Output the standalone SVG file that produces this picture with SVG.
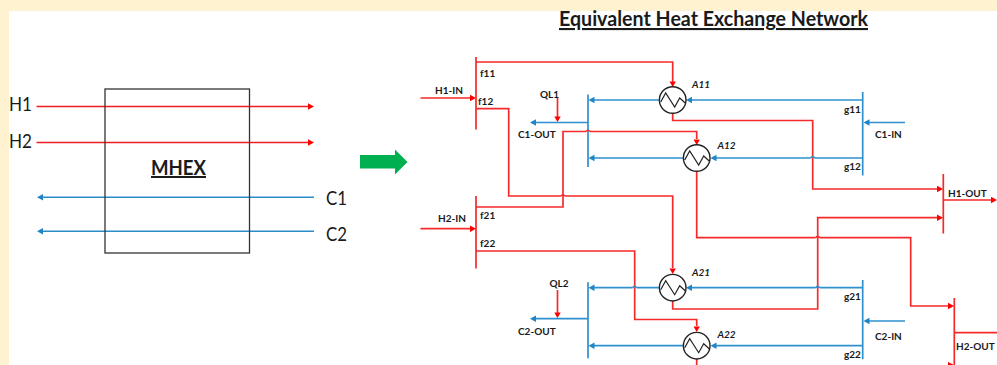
<svg xmlns="http://www.w3.org/2000/svg" width="997" height="365" viewBox="0 0 997 365">
<style>
.t{font-family:Lato,"Liberation Sans",sans-serif;fill:#1a1a1a}
.l{font-size:10px;font-weight:700}
.a{font-size:10px;font-weight:700;font-style:italic}
.s{font-size:19.5px}
.r{fill:none;stroke:#f52a2a;stroke-width:1.7}
.b{fill:none;stroke:#2e90cf;stroke-width:1.7}
.r1{fill:none;stroke:#f01c24;stroke-width:1.4}
.b1{fill:none;stroke:#2a8cc8;stroke-width:1.5}
.hx{fill:#fff;stroke:#222;stroke-width:1.4}
.z{fill:none;stroke:#222;stroke-width:1.2}
.ra{fill:#f00}
.ba{fill:#1f85c6}
</style>
<defs>
<g id="rr"><polygon class="ra" points="0,0 -6,-3.2 -6,3.2"/></g>
<g id="rd"><polygon class="ra" points="0,0 -3.2,-5.5 3.2,-5.5"/></g>
<g id="bl"><polygon class="ba" points="0,0 6,-3.2 6,3.2"/></g>
<g id="hxs"><circle class="hx" r="13.3"/><path class="z" d="M-12,2 L-7,-7 L2,7 L7,-2 L12.500,3"/></g>
</defs>
<rect width="997" height="365" fill="#fff"/>
<path d="M0 0H997V11H9V365H0Z" fill="#fff2d0"/>

<g id="connectors">
  <g id="mhex-streams">
    <path class="r1" d="M36.500 106.500H308M36.500 142.500H308"/>
    <use href="#rr" x="314" y="106.500"/><use href="#rr" x="314" y="142.500"/>
    <path class="b1" d="M314 197.300H42M314 231.300H42"/>
    <use href="#bl" x="37" y="197.300"/><use href="#bl" x="37" y="231.300"/>
  </g>
  <g id="hot-streams">
    <path class="r" d="M420.500 98H470"/><use href="#rr" x="476" y="98"/>
    <path class="r" d="M420.500 228.700H470"/><use href="#rr" x="476" y="228.700"/>
    <path class="r" d="M476 57V129.500M476 196V268.500M943.300 174V233.500M954.300 298V365"/>
    <path class="r" d="M476 62H672.700V82"/><use href="#rd" x="672.700" y="87"/>
    <path class="r" d="M476 108.700H508.700V196H561M565 196H672.700V268"/><use href="#rd" x="672.700" y="274"/>
    <path class="r" d="M476 207H563V131.500H586M590 131.500H696.700V139"/><use href="#rd" x="696.700" y="145"/>
    <path class="r" d="M476 251H634.700V319.500H696.700V326"/><use href="#rd" x="696.700" y="332"/>
    <path class="r" d="M672.700 113V120.500H812.700V189H937"/><use href="#rr" x="943" y="189"/>
    <path class="r" d="M672.700 301V309H817.700V217.700H937"/><use href="#rr" x="943" y="217.700"/>
    <path class="r" d="M696.700 172V237.700H815.700M819.700 237.700H910.700V306H948"/><use href="#rr" x="954" y="306"/>
    <path class="r" d="M696.700 359V365"/>
    <path class="r" d="M943.300 200H991"/><use href="#rr" x="997" y="200"/>
    <path class="r" d="M954.300 332.700H997"/>
    <polygon class="ra" points="948,365 954,365 948,362"/>
    <path class="r" d="M561 196Q563 193.500 565 196M815.700 237.700Q817.700 235 819.700 237.700"/>
  </g>
  <g id="cold-streams">
    <path class="b" d="M588 94.500V167M588 282.300V358.300M862.700 92V175.500M862.700 280V359.300"/>
    <path class="b" d="M862.700 100H692"/><use href="#bl" x="686" y="100"/>
    <path class="b" d="M659 100H594"/><use href="#bl" x="588.500" y="100"/>
    <path class="b" d="M862.700 158H814.700M810.700 158H716"/><use href="#bl" x="710.500" y="158"/>
    <path class="b" d="M683 158H594"/><use href="#bl" x="588.500" y="158"/>
    <path class="b" d="M862.700 287.700H819.700M815.700 287.700H692"/><use href="#bl" x="686" y="287.700"/>
    <path class="b" d="M659 287.700H636.700M632.700 287.700H594"/><use href="#bl" x="588.500" y="287.700"/>
    <path class="b" d="M862.700 345.700H716"/><use href="#bl" x="710.500" y="345.700"/>
    <path class="b" d="M683 345.700H594"/><use href="#bl" x="588.500" y="345.700"/>
    <path class="b" d="M905 122.500H869"/><use href="#bl" x="863.500" y="122.500"/>
    <path class="b" d="M905 321H869"/><use href="#bl" x="863.500" y="321"/>
    <path class="b" d="M588 122.500H535"/><use href="#bl" x="530" y="122.500"/>
    <path class="b" d="M588 318.700H535"/><use href="#bl" x="530" y="318.700"/>
    <path class="b" d="M810.700 158Q812.700 155.300 814.700 158M815.700 287.700Q817.700 285 819.700 287.700M632.700 287.700Q634.700 285 636.700 287.700"/>
    <path class="r" d="M586 131.500Q588 129 590 131.500"/>
  </g>
  <g id="heat-loads">
    <path class="r" d="M557.500 98V117"/><use href="#rd" x="557.500" y="122"/>
    <path class="r" d="M557.500 290V313"/><use href="#rd" x="557.500" y="318"/>
  </g>
</g>

<g id="mhex">
  <rect x="105" y="89" width="144.500" height="164" fill="none" stroke="#333" stroke-width="1.300"/>
  <text class="t" x="151" y="175" font-size="20" font-weight="700" text-decoration="underline" textLength="55" lengthAdjust="spacingAndGlyphs">MHEX</text>
</g>
<g id="label-h1"><text class="t s" x="9" y="110.500" textLength="23" lengthAdjust="spacingAndGlyphs">H1</text></g>
<g id="label-h2"><text class="t s" x="9" y="148" textLength="23" lengthAdjust="spacingAndGlyphs">H2</text></g>
<g id="label-c1"><text class="t s" x="326" y="204.500" textLength="21" lengthAdjust="spacingAndGlyphs">C1</text></g>
<g id="label-c2"><text class="t s" x="326" y="241" textLength="21" lengthAdjust="spacingAndGlyphs">C2</text></g>
<g id="transform-arrow"><polygon points="360,155 395,155 395,149.500 407.500,162 395,174.500 395,168.500 360,168.500" fill="#00b050"/></g>
<g id="title"><text class="t" x="559" y="26" font-size="21" font-weight="700" text-decoration="underline" textLength="309" lengthAdjust="spacingAndGlyphs">Equivalent Heat Exchange Network</text></g>

<g id="A11"><use href="#hxs" x="672.700" y="100"/><text class="t a" x="692" y="88">A11</text></g>
<g id="A12"><use href="#hxs" x="696.700" y="158"/><text class="t a" x="717.500" y="149">A12</text></g>
<g id="A21"><use href="#hxs" x="672.700" y="287.700"/><text class="t a" x="692" y="276">A21</text></g>
<g id="A22"><use href="#hxs" x="696.700" y="345.700"/><text class="t a" x="717.500" y="338">A22</text></g>

<g id="splitter-labels">
<text class="t l" x="480" y="76.500">f11</text>
<text class="t l" x="478" y="105">f12</text>
<text class="t l" x="480" y="219">f21</text>
<text class="t l" x="480" y="247">f22</text>
<text class="t l" x="844" y="113">g11</text>
<text class="t l" x="844" y="170">g12</text>
<text class="t l" x="844" y="300">g21</text>
<text class="t l" x="844" y="358">g22</text>
</g>
<g id="stream-labels">
<text class="t l" x="435" y="94">H1-IN</text>
<text class="t l" x="438" y="222">H2-IN</text>
<text class="t l" x="540" y="98">QL1</text>
<text class="t l" x="549.500" y="287">QL2</text>
<text class="t l" x="518" y="138">C1-OUT</text>
<text class="t l" x="518" y="335">C2-OUT</text>
<text class="t l" x="875" y="138">C1-IN</text>
<text class="t l" x="875" y="340">C2-IN</text>
<text class="t l" x="948" y="197">H1-OUT</text>
<text class="t l" x="956" y="350">H2-OUT</text>
</g>
</svg>
